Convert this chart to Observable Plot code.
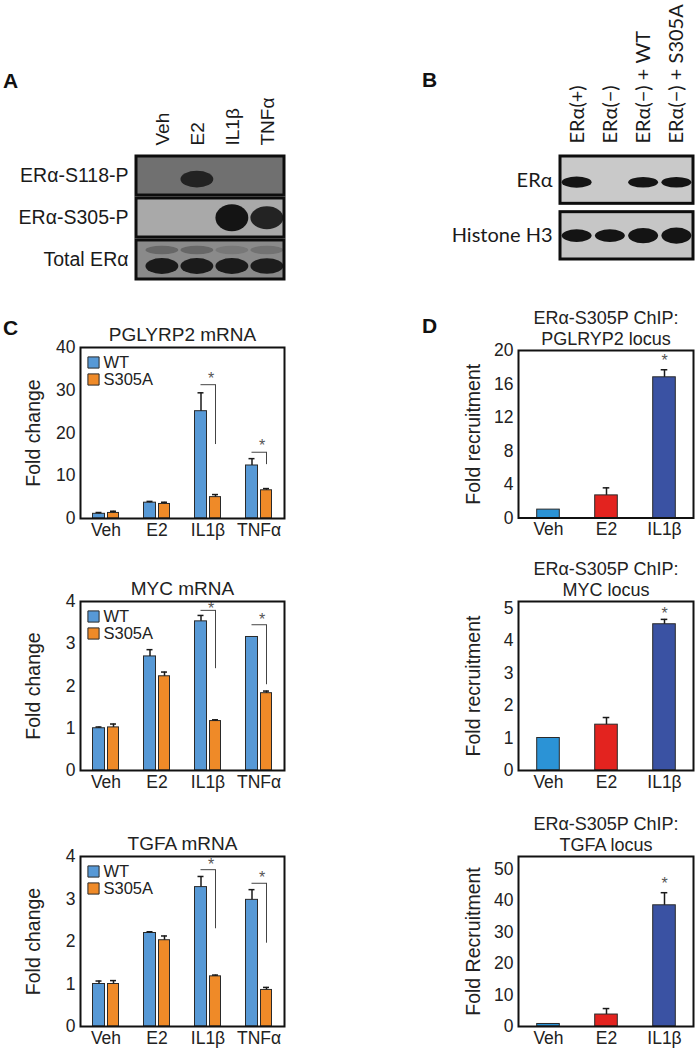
<!DOCTYPE html>
<html>
<head>
<meta charset="utf-8">
<script src="https://cdn.jsdelivr.net/npm/d3@7"></script>
<script src="https://cdn.jsdelivr.net/npm/@observablehq/plot@0.6"></script>
<style>
  body { margin: 0; background: #fff; }
  #fig { position: relative; width: 697px; height: 1050px; overflow: hidden; font-family: "Liberation Sans", Arial, sans-serif; color: #222; }
  .panel { position: absolute; }
  .panel svg { display: block; max-width: none !important; background: none !important; }
  .letter { position: absolute; font-weight: bold; font-size: 21px; line-height: 1; color: #111; }
</style>
</head>
<body>
<div id="fig"></div>
<script>
// ---------------- DATA ----------------
// Panel A western blot
const lanesA = ["Veh", "E2", "IL1β", "TNFα"];
const rowsA = ["ERα-S118-P", "ERα-S305-P", "Total ERα"];
const s118Level = [0, 0.8, 0, 0];
const s305Level = [0, 0, 1, 0.85];
const totalEraLevel = [0.9, 0.9, 0.9, 0.88];
const totalEraUpperLevel = [0.3, 0.3, 0.15, 0.2];

// Panel B western blot
const lanesB = ["ERα(+)", "ERα(−)", "ERα(−) + WT", "ERα(−) + S305A"];
const rowsB = ["ERα", "Histone H3"];
const eraLevel = [1, 0, 0.95, 0.95];
const h3Level = [0.95, 0.95, 1.15, 1.2];

// Panel C qPCR
const treatments = ["Veh", "E2", "IL1β", "TNFα"];
const seriesC = ["WT", "S305A"];

const pglyrp2WT = [1.1, 3.7, 25.1, 12.4];
const pglyrp2WTErr = [1.4, 4.0, 29.4, 14.0];
const pglyrp2S305A = [1.3, 3.4, 5.0, 6.6];
const pglyrp2S305AErr = [1.7, 3.8, 5.6, 7.0];
const pglyrp2SigTop = [31.3, 15.5];
const pglyrp2SigLow = [17.3, 12.6];
const pglyrp2Star = [33.5, 17.9];

const mycWT = [1.0, 2.7, 3.53, 3.16];
const mycWTErr = [1.03, 2.86, 3.67, 3.16];
const mycS305A = [1.02, 2.23, 1.17, 1.83];
const mycS305AErr = [1.1, 2.33, 1.2, 1.88];
const mycSigTop = [3.79, 3.45];
const mycSigLow = [2.41, 2.03];
const mycStar = [3.93, 3.67];

const tgfaWT = [1.0, 2.2, 3.28, 2.98];
const tgfaWTErr = [1.07, 2.23, 3.53, 3.22];
const tgfaS305A = [1.0, 2.03, 1.18, 0.86];
const tgfaS305AErr = [1.08, 2.13, 1.21, 0.92];
const tgfaSigTop = [3.69, 3.37];
const tgfaSigLow = [2.3, 1.96];
const tgfaStar = [3.9, 3.6];

const sigCats = ["IL1β", "TNFα"];

// Panel D ChIP
const chipCats = ["Veh", "E2", "IL1β"];
const pglyrp2Chip = [1.0, 2.7, 16.8];
const pglyrp2ChipErr = [1.0, 3.6, 17.7];
const pglyrp2ChipStar = 19.2;
const mycChip = [1.0, 1.41, 4.5];
const mycChipErr = [1.0, 1.63, 4.65];
const mycChipStar = 4.95;
const tgfaChip = [0.8, 3.8, 38.5];
const tgfaChipErr = [0.8, 5.7, 42.5];
const tgfaChipStar = 46.5;

// ---------------- STYLE ----------------
const FONT = '"Liberation Sans", Arial, sans-serif';
const colWT = "#5799d6";
const colMut = "#ef8a28";
const chipColors = ["#2b93d6", "#e3231f", "#3a52a3"];
const fig = document.getElementById("fig");
const intFmt = d => String(d);

function place(node, left, top, width) {
  const d = document.createElement("div");
  d.className = "panel";
  d.style.left = left + "px";
  d.style.top = top + "px";
  d.style.width = width + "px";
  d.appendChild(node);
  fig.appendChild(d);
}
function letter(t, left, top) {
  const d = document.createElement("div");
  d.className = "letter";
  d.textContent = t;
  d.style.left = left + "px";
  d.style.top = top + "px";
  fig.appendChild(d);
}
function addBlur(node, id, sd, label) {
  const svg = d3.select(node);
  const f = svg.insert("defs", ":first-child").append("filter")
    .attr("id", id).attr("x", "-40%").attr("y", "-80%").attr("width", "180%").attr("height", "260%");
  f.append("feGaussianBlur").attr("stdDeviation", sd);
  svg.selectAll(`g[aria-label="${label}"]`).attr("filter", `url(#${id})`);
}

// ---------------- BLOTS ----------------
function blot(cfg) {
  const {lanes, rows, levels, rowBg, xDomain, rowH, yMax, width, height, mL, mR, mT, mB,
         centerOff, halfH, halfW, fontSize, laneFont, fontFamily, laneDy, laneDx, id, blur, extra} = cfg;
  const bands = [];
  rows.forEach((r, ri) => lanes.forEach((l, li) => {
    const v = levels[ri][li];
    if (v > 0) bands.push({ri, li, v});
  }));
  const extraBands = [];
  if (extra) extra.level.forEach((v, li) => { if (v > 0) extraBands.push({ri: extra.row, li, v}); });
  const node = Plot.plot({
    width, height, marginLeft: mL, marginRight: mR, marginTop: mT, marginBottom: mB,
    style: {fontFamily: FONT, background: "none", color: "#222"},
    x: {domain: xDomain, axis: null},
    y: {domain: [0, yMax], axis: null, reverse: true},
    color: {type: "identity"},
    marks: [
      Plot.rect(rows, {x1: () => xDomain[0], x2: () => xDomain[1], y1: (d, i) => i, y2: (d, i) => i + rowH,
        fill: (d, i) => rowBg[i]}),
      Plot.rect(extraBands, {x1: d => d.li + 0.5 - halfW, x2: d => d.li + 0.5 + halfW,
        y1: d => d.ri + extra.off - extra.hh, y2: d => d.ri + extra.off + extra.hh, rx: 40, ry: 40,
        fill: d => d3.interpolateRgb(rowBg[d.ri], "#141414")(d.v), ariaLabel: id + "-bands"}),
      Plot.rect(bands, {x1: d => d.li + 0.5 - halfW, x2: d => d.li + 0.5 + halfW,
        y1: d => d.ri + centerOff[d.ri] - halfH[d.ri] * d.v, y2: d => d.ri + centerOff[d.ri] + halfH[d.ri] * d.v,
        rx: 40, ry: 40,
        fill: d => d3.interpolateRgb(rowBg[d.ri], "#141414")(Math.min(1, d.v + 0.05)), ariaLabel: id + "-bands"}),
      Plot.rect(rows, {x1: () => xDomain[0], x2: () => xDomain[1], y1: (d, i) => i, y2: (d, i) => i + rowH,
        fill: "none", stroke: "#0d0d0d", strokeWidth: 3}),
      Plot.text(rows, {frameAnchor: "left", y: (d, i) => i + rowH / 2, text: d => d, textAnchor: "end",
        lineAnchor: "middle", dx: -8, fontSize, fontFamily, fill: "#1a1a1a"}),
      Plot.text(lanes, {x: (d, i) => i + 0.5, frameAnchor: "top", dy: laneDy, dx: laneDx, text: d => d, rotate: -90,
        textAnchor: "start", lineAnchor: "middle", fontSize: laneFont, fontFamily, fill: "#1a1a1a"})
    ]
  });
  addBlur(node, id + "-blur", blur, id + "-bands");
  return node;
}

place(blot({
  lanes: lanesA, rows: rowsA, levels: [s118Level, s305Level, totalEraLevel],
  rowBg: ["#707070", "#a9a9a9", "#8a8a8a"], xDomain: [-0.24, 3.99], rowH: 0.93, yMax: 2.93,
  width: 300, height: 200, mL: 136, mR: 16, mT: 66, mB: 11,
  centerOff: [0.55, 0.47, 0.62], halfH: [0.25, 0.32, 0.21], halfW: 0.47,
  fontSize: 19.5, laneFont: 19, fontFamily: FONT, laneDy: -11, laneDx: 1, id: "blotA", blur: 2.8,
  extra: {row: 2, level: totalEraUpperLevel, off: 0.24, hh: 0.1}
}), 0, 90, 300);

place(blot({
  lanes: lanesB, rows: rowsB, levels: [eraLevel, h3Level],
  rowBg: ["#c9c9c9", "#c6c6c6"], xDomain: [0, 4], rowH: 0.85, yMax: 1.85,
  width: 337, height: 270, mL: 200, mR: 4, mT: 156, mB: 11,
  centerOff: [0.47, 0.43], halfH: [0.1, 0.12], halfW: 0.45,
  fontSize: 20, laneFont: 20, fontFamily: "Lato, " + FONT, laneDy: -13, laneDx: 0, id: "blotB", blur: 1.4
}), 360, 0, 337);

// ---------------- GROUPED BAR CHARTS (C) ----------------
function grouped(cfg) {
  const {title, wt, wtErr, mut, mutErr, sigTop, sigLow, star, yMax, yTicks, frameTop, frameBottom} = cfg;
  const mT = 47, mB = 24;
  const top = frameTop - mT;
  const height = frameBottom + mB - top;
  const data = treatments.map((t, i) => ({t, wt: wt[i], wtE: wtErr[i], mut: mut[i], mutE: mutErr[i]}));
  const sig = sigCats.map((t, i) => ({t, top: sigTop[i], low: sigLow[i], star: star[i]}));
  const ink = "#1a1a1a";
  const node = Plot.plot({
    width: 300, height, marginLeft: 80, marginRight: 16, marginTop: mT, marginBottom: mB,
    style: {fontFamily: FONT, fontSize: "17.5px", background: "none", color: "#222"},
    x: {domain: treatments, type: "band", padding: 0, tickSize: 0, tickPadding: 5, label: null},
    y: {domain: [0, yMax], ticks: yTicks, tickFormat: intFmt, tickSize: 0, tickPadding: 5, label: null},
    marks: [
      Plot.barY(data, {x: "t", y: "wt", fill: colWT, stroke: "#2a2a2a", strokeWidth: 1, insetLeft: 12.5, insetRight: 26.5}),
      Plot.barY(data, {x: "t", y: "mut", fill: colMut, stroke: "#2a2a2a", strokeWidth: 1, insetLeft: 27.5, insetRight: 12.5}),
      Plot.ruleX(data.filter(d => d.wtE > d.wt), {x: "t", y1: "wt", y2: "wtE", dx: -7, stroke: ink, strokeWidth: 1.5}),
      Plot.tickY(data.filter(d => d.wtE > d.wt), {x: "t", y: "wtE", insetLeft: 15.5, insetRight: 29.5, stroke: ink, strokeWidth: 1.5}),
      Plot.ruleX(data.filter(d => d.mutE > d.mut), {x: "t", y1: "mut", y2: "mutE", dx: 7.5, stroke: ink, strokeWidth: 1.5}),
      Plot.tickY(data.filter(d => d.mutE > d.mut), {x: "t", y: "mutE", insetLeft: 30, insetRight: 15, stroke: ink, strokeWidth: 1.5}),
      Plot.tickY(sig, {x: "t", y: "top", insetLeft: 18.5, insetRight: 18, stroke: "#444", strokeWidth: 1}),
      Plot.ruleX(sig, {x: "t", y1: "low", y2: "top", dx: 7.5, stroke: "#444", strokeWidth: 1}),
      Plot.text(sig, {x: "t", y: "star", text: () => "*", dx: 3, dy: 4, fontSize: 16, fill: "#555"}),
      Plot.frame({stroke: "#111", strokeWidth: 2}),
      Plot.dot([seriesC[0]], {frameAnchor: "top-left", dx: 13, dy: 15, symbol: "square", r: 6.3, fill: colWT, stroke: "#2a2a2a", strokeWidth: 1}),
      Plot.dot([seriesC[1]], {frameAnchor: "top-left", dx: 13, dy: 32, symbol: "square", r: 6.3, fill: colMut, stroke: "#2a2a2a", strokeWidth: 1}),
      Plot.text([seriesC[0]], {frameAnchor: "top-left", dx: 23, dy: 15, text: d => d, textAnchor: "start", lineAnchor: "middle", fontSize: 16.5, fill: "#222"}),
      Plot.text([seriesC[1]], {frameAnchor: "top-left", dx: 23, dy: 32, text: d => d, textAnchor: "start", lineAnchor: "middle", fontSize: 16.5, fill: "#222"}),
      Plot.text([title], {frameAnchor: "top", dy: -13, text: d => d, textAnchor: "middle", lineAnchor: "middle", fontSize: 19, fill: "#222"}),
      Plot.text(["Fold change"], {frameAnchor: "left", dx: -47, text: d => d, rotate: -90, textAnchor: "middle", lineAnchor: "middle", fontSize: 19.5, fill: "#222"})
    ]
  });
  place(node, 0, top, 300);
}

grouped({title: "PGLYRP2 mRNA", wt: pglyrp2WT, wtErr: pglyrp2WTErr, mut: pglyrp2S305A, mutErr: pglyrp2S305AErr,
  sigTop: pglyrp2SigTop, sigLow: pglyrp2SigLow, star: pglyrp2Star, yMax: 40, yTicks: [0, 10, 20, 30, 40],
  frameTop: 347, frameBottom: 518});
grouped({title: "MYC mRNA", wt: mycWT, wtErr: mycWTErr, mut: mycS305A, mutErr: mycS305AErr,
  sigTop: mycSigTop, sigLow: mycSigLow, star: mycStar, yMax: 4, yTicks: [0, 1, 2, 3, 4],
  frameTop: 601, frameBottom: 770});
grouped({title: "TGFA mRNA", wt: tgfaWT, wtErr: tgfaWTErr, mut: tgfaS305A, mutErr: tgfaS305AErr,
  sigTop: tgfaSigTop, sigLow: tgfaSigLow, star: tgfaStar, yMax: 4, yTicks: [0, 1, 2, 3, 4],
  frameTop: 856, frameBottom: 1026});

// ---------------- ChIP CHARTS (D) ----------------
function chip(cfg) {
  const {titleLines, ylabel, vals, errs, star, yMax, yTicks, frameTop, frameBottom} = cfg;
  const mT = 60, mB = 24;
  const top = frameTop - mT;
  const height = frameBottom + mB - top;
  const data = chipCats.map((t, i) => ({t, v: vals[i], e: errs[i], c: chipColors[i]}));
  const errData = data.filter(d => d.e > d.v);
  const ink = "#1a1a1a";
  const node = Plot.plot({
    width: 337, height, marginLeft: 158, marginRight: 4, marginTop: mT, marginBottom: mB,
    style: {fontFamily: FONT, fontSize: "17.5px", background: "none", color: "#222"},
    x: {domain: chipCats, type: "band", padding: 0, tickSize: 0, tickPadding: 5, label: null},
    y: {domain: [0, yMax], ticks: yTicks, tickFormat: intFmt, tickSize: 0, tickPadding: 5, label: null},
    color: {type: "identity"},
    marks: [
      Plot.barY(data, {x: "t", y: "v", fill: "c", stroke: "#2a2a2a", strokeWidth: 1, insetLeft: 17.7, insetRight: 17.7}),
      Plot.ruleX(errData, {x: "t", y1: "v", y2: "e", stroke: ink, strokeWidth: 1.5}),
      Plot.tickY(errData, {x: "t", y: "e", insetLeft: 25.7, insetRight: 25.7, stroke: ink, strokeWidth: 1.5}),
      Plot.text([star], {x: () => chipCats[2], y: d => d, text: () => "*", dy: 4, fontSize: 16, fill: "#555"}),
      Plot.frame({stroke: "#111", strokeWidth: 2}),
      Plot.text([titleLines[0]], {frameAnchor: "top", dy: -32.5, text: d => d, textAnchor: "middle", lineAnchor: "middle", fontSize: 18, fill: "#222"}),
      Plot.text([titleLines[1]], {frameAnchor: "top", dy: -11.5, text: d => d, textAnchor: "middle", lineAnchor: "middle", fontSize: 18, fill: "#222"}),
      Plot.text([ylabel], {frameAnchor: "left", dx: -45, text: d => d, rotate: -90, textAnchor: "middle", lineAnchor: "middle", fontSize: 19.5, fill: "#222"})
    ]
  });
  place(node, 360, top, 337);
}

chip({titleLines: ["ERα-S305P ChIP:", "PGLRYP2 locus"], ylabel: "Fold recruitment", vals: pglyrp2Chip, errs: pglyrp2ChipErr,
  star: pglyrp2ChipStar, yMax: 20, yTicks: [0, 4, 8, 12, 16, 20], frameTop: 350, frameBottom: 517.5});
chip({titleLines: ["ERα-S305P ChIP:", "MYC locus"], ylabel: "Fold recruitment", vals: mycChip, errs: mycChipErr,
  star: mycChipStar, yMax: 5.2, yTicks: [0, 1, 2, 3, 4, 5], frameTop: 601, frameBottom: 770});
chip({titleLines: ["ERα-S305P ChIP:", "TGFA locus"], ylabel: "Fold Recruitment", vals: tgfaChip, errs: tgfaChipErr,
  star: tgfaChipStar, yMax: 54, yTicks: [0, 10, 20, 30, 40, 50], frameTop: 856, frameBottom: 1026});

// ---------------- PANEL LETTERS ----------------
letter("A", 3, 70);
letter("B", 422, 69);
letter("C", 3, 317);
letter("D", 422, 315);
</script>
</body>
</html>
